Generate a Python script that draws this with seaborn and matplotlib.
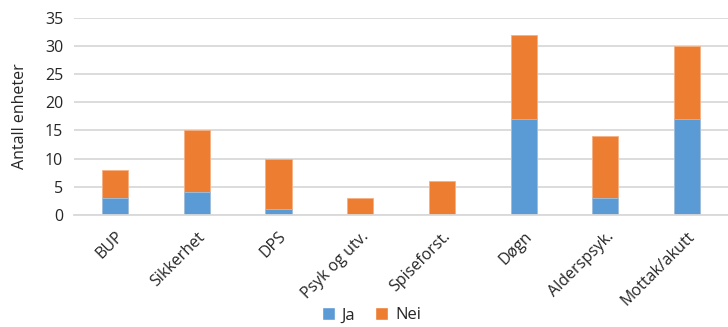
import numpy as np
import pandas as pd
import matplotlib
matplotlib.use("Agg")
import matplotlib.pyplot as plt
import seaborn as sns
from matplotlib.patches import Patch

# data
categories = ["BUP", "Sikkerhet", "DPS", "Psyk og utv.", "Spiseforst.",
              "Døgn", "Alderspsyk.", "Mottak/akutt"]
ja = [3, 4, 1, 0, 0, 17, 3, 17]
nei = [5, 11, 9, 3, 6, 15, 11, 13]

BLUE = "#5b9bd5"
ORANGE = "#ed7d31"
GRID = "#d9d9d9"
TEXT = "#262626"

sns.set_style("white")
plt.rcParams["font.family"] = ["Open Sans", "DejaVu Sans"]

df = pd.DataFrame({"kategori": categories, "Ja": ja, "Nei": nei})
df["total"] = df["Ja"] + df["Nei"]

fig = plt.figure(figsize=(7.28, 3.27), dpi=100)
ax = fig.add_axes([0.102, 0.343, 0.898, 0.602])

sns.barplot(data=df, x="kategori", y="total", color=ORANGE, width=0.32,
            saturation=1, edgecolor="#f4b183", linewidth=0.6, ax=ax)
sns.barplot(data=df, x="kategori", y="Ja", color=BLUE, width=0.32,
            saturation=1, edgecolor="#9dc3e6", linewidth=0.6, ax=ax)

ax.set_ylim(0, 35)
ax.set_xlim(-0.5, len(categories) - 0.5)
ax.set_yticks(np.arange(0, 36, 5))
ax.yaxis.grid(True, color=GRID, linewidth=1.3)
ax.set_axisbelow(True)
for s in ["top", "right", "left"]:
    ax.spines[s].set_visible(False)
ax.spines["bottom"].set_color(GRID)
ax.spines["bottom"].set_linewidth(1.3)

ax.tick_params(axis="y", length=0, labelsize=11.5, colors=TEXT, pad=8)
ax.set_xticks(range(len(categories)))
ax.set_xticklabels(categories, rotation=45, ha="right", rotation_mode="anchor",
                   fontsize=11.5, color=TEXT)
ax.tick_params(axis="x", which="major", length=0, pad=10)
ax.set_xticks(np.arange(-0.5, len(categories), 1), minor=True)
ax.tick_params(axis="x", which="minor", length=5, color=GRID, width=1.3)

ax.set_xlabel("")
ax.set_ylabel("Antall enheter", fontsize=11.5, color=TEXT, labelpad=12)

handles = [Patch(facecolor=BLUE, label="Ja"), Patch(facecolor=ORANGE, label="Nei")]
fig.legend(handles=handles, loc="lower center", bbox_to_anchor=(0.51, -0.035),
           ncol=2, frameon=False, fontsize=12, handlelength=0.8,
           handleheight=0.8, handletextpad=0.4, columnspacing=1.2)

fig.savefig("out.png", dpi=100)
